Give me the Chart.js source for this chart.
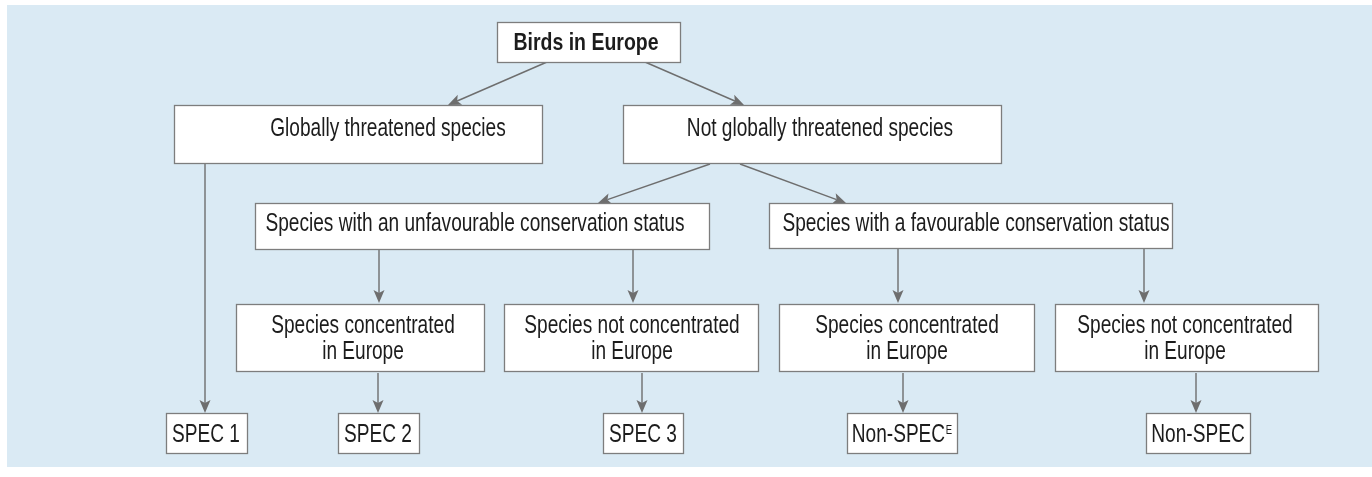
<!DOCTYPE html>
<html>
<head>
<meta charset="utf-8">
<script src="https://cdn.jsdelivr.net/npm/chart.js@4.4.0/dist/chart.umd.min.js"></script>
<style>
    html, body { margin: 0; padding: 0; background: #ffffff; }
    #wrap { width: 1372px; height: 477px; }
</style>
</head>
<body>
<div id="wrap"><canvas id="flowChart" width="1372" height="477"></canvas></div>
<script>
// ---- Data ----
const nodeLabels = [
    ['Birds in Europe'],
    ['Globally threatened species'],
    ['Not globally threatened species'],
    ['Species with an unfavourable conservation status'],
    ['Species with a favourable conservation status'],
    ['Species concentrated', 'in Europe'],
    ['Species not concentrated', 'in Europe'],
    ['Species concentrated', 'in Europe'],
    ['Species not concentrated', 'in Europe'],
    ['SPEC 1'],
    ['SPEC 2'],
    ['SPEC 3'],
    ['Non-SPEC^E'],
    ['Non-SPEC']
];
const edgeFrom = [0, 0, 2, 2, 3, 3, 4, 4, 1, 5, 6, 7, 8];
const edgeTo   = [1, 2, 3, 4, 5, 6, 7, 8, 9, 10, 11, 12, 13];

// ---- Layout (in axis units = pixels of the 1372x477 frame) ----
const boxRects = [
    [497, 22, 680, 62],
    [174, 105, 542, 163],
    [623, 105, 1001, 163],
    [255, 203, 709, 249],
    [769, 203, 1172, 248],
    [236, 304, 484, 371],
    [504, 304, 758, 371],
    [779, 304, 1034, 371],
    [1055, 304, 1318, 371],
    [166, 413, 247, 453],
    [338, 413, 419, 453],
    [603, 413, 683, 453],
    [847, 413, 957, 453],
    [1146, 413, 1250, 453]
];
const textCenters = [
    [586, 43], [388, 129], [820, 129], [475, 224], [976, 224],
    [363, 326], [632, 326], [907, 326], [1185, 326],
    [206, 435], [378, 435], [643, 435], [902, 435], [1198, 435]
];
const edgePaths = [
    [547, 62, 448, 105],
    [645, 62, 744, 105],
    [710, 164, 598, 203],
    [740, 164, 846, 203],
    [379, 249, 379, 303],
    [633, 249, 633, 303],
    [898, 248, 898, 303],
    [1144, 248, 1144, 303],
    [205, 163, 205, 413],
    [378, 373, 378, 413],
    [642, 373, 642, 413],
    [903, 373, 903, 413],
    [1196, 373, 1196, 413]
];
const panelRect = [7, 5, 1372, 467];

const BG = '#daeaf4';
const BORDER = '#7d7d7d';
const LINE = '#6e6e6e';
const TEXT = '#1c1c1c';
const FONT_FAMILY = '"Liberation Sans Narrow", "Liberation Sans", Arial, sans-serif';

// ---- Flowchart plugin ----
const flowPlugin = {
    id: 'flow',
    beforeDatasetsDraw(chart) {
        const ctx = chart.ctx;
        const sx = chart.scales.x, sy = chart.scales.y;
        const px = v => sx.getPixelForValue(v);
        const py = v => sy.getPixelForValue(v);

        ctx.save();
        // panel
        ctx.fillStyle = BG;
        ctx.fillRect(px(panelRect[0]), py(panelRect[1]), px(panelRect[2]) - px(panelRect[0]), py(panelRect[3]) - py(panelRect[1]));

        // condense factors
        ctx.font = '26px ' + FONT_FAMILY;
        const normScale = 419 / ctx.measureText('Species with an unfavourable conservation status').width;
        ctx.font = 'bold 24px ' + FONT_FAMILY;
        const boldScale = 145 / ctx.measureText('Birds in Europe').width;

        // edges
        edgeFrom.forEach((f, i) => {
            const [x1, y1, x2, y2] = edgePaths[i];
            const ax = px(x1), ay = py(y1), bx = px(x2), by = py(y2);
            const ang = Math.atan2(by - ay, bx - ax);
            const len = 13, half = 5.5;
            const tx = bx - Math.cos(ang) * len, ty = by - Math.sin(ang) * len;
            ctx.strokeStyle = LINE;
            ctx.lineWidth = 1.4;
            ctx.beginPath();
            ctx.moveTo(ax, ay);
            ctx.lineTo(tx + Math.cos(ang) * 3, ty + Math.sin(ang) * 3);
            ctx.stroke();
            ctx.fillStyle = LINE;
            ctx.beginPath();
            ctx.moveTo(bx, by);
            ctx.lineTo(tx - Math.sin(ang) * half, ty + Math.cos(ang) * half);
            ctx.lineTo(tx + Math.cos(ang) * 3, ty + Math.sin(ang) * 3);
            ctx.lineTo(tx + Math.sin(ang) * half, ty - Math.cos(ang) * half);
            ctx.closePath();
            ctx.fill();
        });

        // boxes + text
        nodeLabels.forEach((lines, i) => {
            const [x0, y0, x1, y1] = boxRects[i];
            const bx = px(x0) + 0.5, by = py(y0) + 0.5;
            const bw = px(x1) - px(x0), bh = py(y1) - py(y0);
            ctx.fillStyle = '#ffffff';
            ctx.fillRect(bx, by, bw, bh);
            ctx.strokeStyle = BORDER;
            ctx.lineWidth = 1.3;
            ctx.strokeRect(bx, by, bw, bh);

            const bold = i === 0;
            const scale = bold ? boldScale : normScale;
            const mainFont = (bold ? 'bold 24px ' : '26px ') + FONT_FAMILY;
            ctx.font = mainFont;
            ctx.fillStyle = TEXT;
            ctx.textBaseline = 'middle';
            const [cx, cy] = textCenters[i];
            lines.forEach((line, li) => {
                const yy = py(cy + li * 26);
                const parts = line.split('^');
                const mainW = ctx.measureText(parts[0]).width;
                let supW = 0;
                if (parts[1]) {
                    ctx.font = '13px ' + FONT_FAMILY;
                    supW = ctx.measureText(parts[1]).width + 1;
                    ctx.font = mainFont;
                }
                const total = (mainW + supW) * scale;
                ctx.save();
                ctx.translate(px(cx) - total / 2, yy);
                ctx.scale(scale, 1);
                ctx.textAlign = 'left';
                ctx.fillText(parts[0], 0, 0);
                if (parts[1]) {
                    ctx.font = '13px ' + FONT_FAMILY;
                    ctx.fillText(parts[1], mainW + 1, -5);
                }
                ctx.restore();
            });
        });
        ctx.restore();
    }
};

// ---- Chart ----
new Chart(document.getElementById('flowChart'), {
    type: 'scatter',
    data: {
        datasets: [{
            data: textCenters.map(c => ({ x: c[0], y: c[1] })),
            pointRadius: 0,
            pointHoverRadius: 0
        }]
    },
    options: {
        responsive: false,
        animation: false,
        events: [],
        layout: { padding: 0 },
        plugins: { legend: { display: false }, tooltip: { enabled: false } },
        scales: {
            x: { type: 'linear', min: 0, max: 1372, display: false },
            y: { type: 'linear', min: 0, max: 477, reverse: true, display: false }
        }
    },
    plugins: [flowPlugin]
});
</script>
</body>
</html>
